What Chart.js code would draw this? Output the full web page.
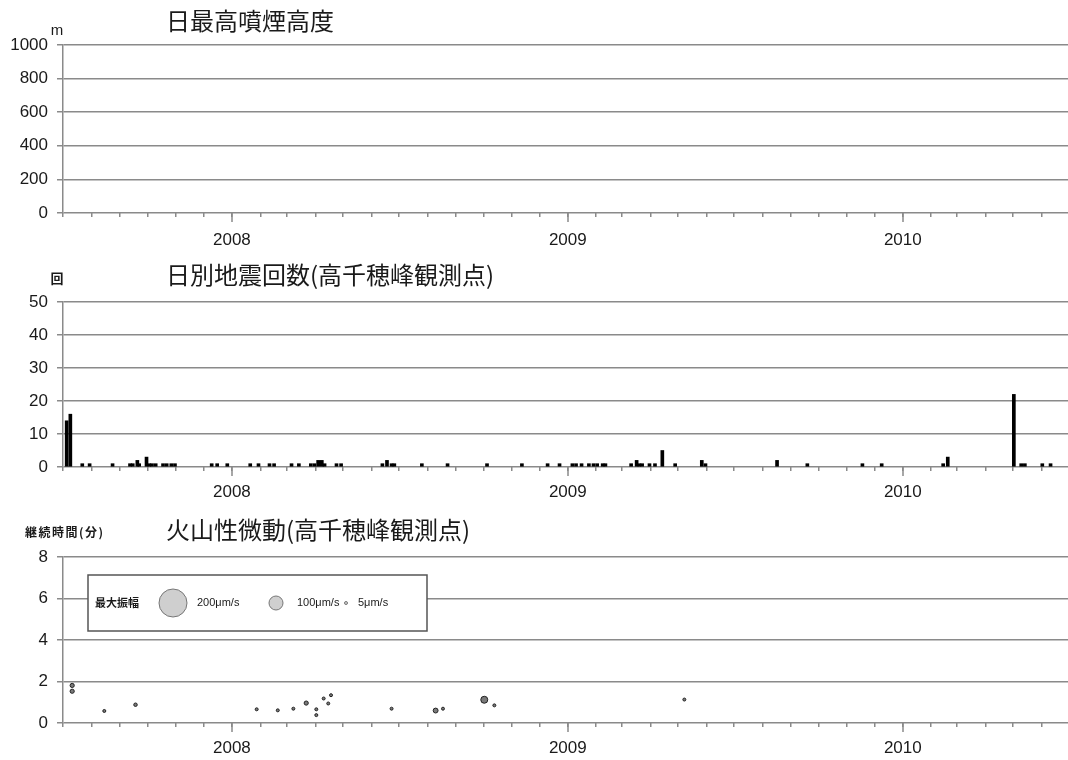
<!DOCTYPE html>
<html>
<head>
<meta charset="utf-8">
<title>新燃岳 観測データ</title>
<script src="https://cdn.jsdelivr.net/npm/chart.js@4.4.1/dist/chart.umd.min.js"></script>
<style>
  html, body { margin: 0; padding: 0; background: #fff; }
  #wrap { position: relative; width: 1068px; height: 760px; overflow: hidden; background: #fff; }
  .panel { position: absolute; left: 0; width: 1068px; }
  canvas { display: block; }
</style>
</head>
<body>
<div id="wrap">
  <div class="panel" style="top:0px;height:250px"><canvas id="plume" width="1068" height="250"></canvas></div>
  <div class="panel" style="top:250px;height:260px"><canvas id="quake" width="1068" height="260"></canvas></div>
  <div class="panel" style="top:510px;height:250px"><canvas id="tremor" width="1068" height="250"></canvas></div>
</div>
<script>
// ---- time range shared by the three panels ----
const AXIS_START = '2007-07-01';
const AXIS_END = '2010-06-30';
const yearLabels = ['2008', '2009', '2010'];

// ---- daily maximum plume height (m): no plume observed in this period ----
const plumeDates = [];
const plumeHeights = [];
const plumeTicks = [0, 200, 400, 600, 800, 1000];

// ---- daily earthquake counts ----
const quakeDates = [
  '2007-07-05', '2007-07-09', '2007-07-22', '2007-07-30', '2007-08-24',
  '2007-09-12', '2007-09-15', '2007-09-20', '2007-09-22', '2007-09-30',
  '2007-10-03', '2007-10-06', '2007-10-10', '2007-10-18', '2007-10-22',
  '2007-10-27', '2007-10-31', '2007-12-10', '2007-12-16', '2007-12-27',
  '2008-01-21', '2008-01-30', '2008-02-11', '2008-02-16', '2008-03-06',
  '2008-03-14', '2008-03-27', '2008-03-31', '2008-04-04', '2008-04-08',
  '2008-04-11', '2008-04-24', '2008-04-29', '2008-06-13', '2008-06-18',
  '2008-06-23', '2008-06-26', '2008-07-26', '2008-08-23', '2008-10-05',
  '2008-11-12', '2008-12-10', '2008-12-23', '2009-01-06', '2009-01-10',
  '2009-01-16', '2009-01-24', '2009-01-29', '2009-02-02', '2009-02-08',
  '2009-02-11', '2009-03-11', '2009-03-17', '2009-03-20', '2009-03-23',
  '2009-03-31', '2009-04-06', '2009-04-14', '2009-04-28', '2009-05-27',
  '2009-05-31', '2009-08-17', '2009-09-19', '2009-11-18', '2009-12-09',
  '2010-02-14', '2010-02-19', '2010-05-02', '2010-05-10', '2010-05-14',
  '2010-06-02', '2010-06-11'
];
const quakeCounts = [
  14, 16, 1, 1, 1,
  1, 1, 2, 1, 3,
  1, 1, 1, 1, 1,
  1, 1, 1, 1, 1,
  1, 1, 1, 1, 1,
  1, 1, 1, 2, 2,
  1, 1, 1, 1, 2,
  1, 1, 1, 1, 1,
  1, 1, 1, 1, 1,
  1, 1, 1, 1, 1,
  1, 1, 2, 1, 1,
  1, 1, 5, 1, 2,
  1, 2, 1, 1, 1,
  1, 3, 22, 1, 1,
  1, 1
];
const quakeTicks = [0, 10, 20, 30, 40, 50];

// ---- volcanic tremor: duration (min) and maximum amplitude (μm/s) ----
const tremorDates = [
  '2007-07-11', '2007-07-11', '2007-08-15', '2007-09-18', '2008-01-28',
  '2008-02-20', '2008-03-08', '2008-03-22', '2008-04-02', '2008-04-02',
  '2008-04-10', '2008-04-15', '2008-04-18', '2008-06-23', '2008-08-10',
  '2008-08-18', '2008-10-02', '2008-10-13', '2009-05-08'
];
const tremorMinutes = [
  1.81, 1.53, 0.58, 0.88, 0.66,
  0.61, 0.69, 0.96, 0.66, 0.38,
  1.18, 0.94, 1.34, 0.69, 0.60,
  0.69, 1.12, 0.85, 1.13
];
const tremorAmplitudes = [
  30, 30, 10, 25, 8,
  8, 8, 30, 5, 5,
  5, 20, 5, 5, 35,
  5, 50, 20, 8
];
const tremorTicks = [0, 2, 4, 6, 8];
const legendAmplitudes = [200, 100, 5];

// ---- helpers ----
const DAY_MS = 86400000;
function toUTC(s) { const [y, m, d] = s.split('-').map(Number); return Date.UTC(y, m - 1, d); }
const T0 = toUTC(AXIS_START);
function dayOf(s) { return Math.round((toUTC(s) - T0) / DAY_MS); }
const X_MAX = dayOf(AXIS_END);

// first day of each month inside the axis range
const monthStarts = [];
(function () {
  let y = 2007, m = 6;
  for (;;) {
    const v = Math.round((Date.UTC(y, m, 1) - T0) / DAY_MS);
    if (v > X_MAX) break;
    monthStarts.push(v);
    m++; if (m > 11) { m = 0; y++; }
  }
})();
const yearStarts = yearLabels.map(y => dayOf(y + '-01-01'));

function radiusFor(amp) { return Math.max(1.5, amp * 0.07); }

const GRID = '#8a8a8a';
const INK = '#1a1a1a';
const TICK_FONT = { family: '"Liberation Sans", Arial, sans-serif', size: 17 };

function timeAxis(height, labelPad) {
  return {
    type: 'linear',
    offset: false,
    min: 0,
    max: X_MAX,
    afterBuildTicks(scale) { scale.ticks = monthStarts.map(v => ({ value: v })); },
    afterFit(scale) { scale.height = height; },
    ticks: {
      autoSkip: false,
      maxRotation: 0,
      padding: labelPad,
      color: INK,
      font: TICK_FONT,
      callback(v) {
        const i = yearStarts.indexOf(v);
        return i >= 0 ? yearLabels[i] : '';
      }
    },
    grid: { offset: false, drawOnChartArea: false, drawTicks: true, tickLength: 4, color: GRID, lineWidth: 1.5 },
    border: { display: false }
  };
}

function valueAxis(ticks) {
  return {
    type: 'linear',
    min: ticks[0],
    max: ticks[ticks.length - 1],
    afterBuildTicks(scale) { scale.ticks = ticks.map(v => ({ value: v })); },
    afterFit(scale) { scale.width = 63; },
    ticks: { padding: 9, color: INK, font: TICK_FONT, callback: v => String(v) },
    grid: { color: GRID, lineWidth: 1.5, drawTicks: true, tickLength: 6 },
    border: { display: true, color: GRID, width: 1.5 }
  };
}

// draws the panel title, unit label and the longer year ticks on the time axis
function panelDecor(opts) {
  return {
    id: 'panelDecor',
    afterDraw(chart) {
      const ctx = chart.ctx;
      const xs = chart.scales.x;
      const bottom = chart.chartArea.bottom;
      ctx.save();
      ctx.strokeStyle = GRID;
      ctx.lineWidth = 1.5;
      yearStarts.forEach(v => {
        const px = Math.round(xs.getPixelForValue(v));
        ctx.beginPath();
        ctx.moveTo(px, bottom);
        ctx.lineTo(px, bottom + 9);
        ctx.stroke();
      });
      ctx.fillStyle = INK;
      ctx.textBaseline = 'middle';
      ctx.textAlign = 'left';
      ctx.font = '24px "Noto Sans CJK JP", sans-serif';
      ctx.fillText(opts.title, opts.titleX, opts.titleY);
      ctx.font = opts.unitFont;
      ctx.textAlign = opts.unitAlign;
      if (opts.unitSpacing) ctx.letterSpacing = opts.unitSpacing;
      ctx.fillText(opts.unit, opts.unitX, opts.unitY);
      ctx.letterSpacing = '0px';
      if (opts.extra) opts.extra(chart, ctx);
      ctx.restore();
    }
  };
}

// amplitude key of the tremor panel
function drawAmplitudeKey(chart, ctx) {
  const left = 88, top = 65, w = 339, h = 56, cy = top + h / 2;
  ctx.fillStyle = '#fff';
  ctx.fillRect(left, top, w, h);
  ctx.strokeStyle = '#555';
  ctx.lineWidth = 1.5;
  ctx.strokeRect(left, top, w, h);
  ctx.fillStyle = INK;
  ctx.textAlign = 'left';
  ctx.textBaseline = 'middle';
  ctx.font = 'bold 11px "Noto Sans CJK JP", sans-serif';
  ctx.fillText('最大振幅', 95, cy);
  const keys = [
    { cx: 173, tx: 197 },
    { cx: 276, tx: 297 },
    { cx: 346, tx: 358 }
  ];
  legendAmplitudes.forEach((amp, i) => {
    ctx.beginPath();
    ctx.arc(keys[i].cx, cy, radiusFor(amp), 0, Math.PI * 2);
    ctx.fillStyle = '#cfcfcf';
    ctx.fill();
    ctx.strokeStyle = '#777';
    ctx.lineWidth = 1;
    ctx.stroke();
    ctx.fillStyle = INK;
    ctx.font = '11px "Liberation Sans", Arial, sans-serif';
    ctx.fillText(amp + 'μm/s', keys[i].tx, cy);
  });
}

const common = {
  responsive: false,
  animation: false,
  events: [],
  plugins: { legend: { display: false }, tooltip: { enabled: false }, title: { display: false } }
};

// 1) daily maximum plume height
new Chart(document.getElementById('plume'), {
  type: 'bar',
  data: {
    datasets: [{
      data: plumeDates.map((d, i) => ({ x: dayOf(d), y: plumeHeights[i] })),
      backgroundColor: '#000',
      barThickness: 3
    }]
  },
  options: Object.assign({}, common, {
    layout: { autoPadding: false, padding: { top: 45, right: 0, bottom: 0, left: 0 } },
    scales: { x: timeAxis(37, 13), y: valueAxis(plumeTicks) }
  }),
  plugins: [panelDecor({
    title: '日最高噴煙高度', titleX: 166, titleY: 21,
    unit: 'm', unitFont: '15px "Liberation Sans", Arial, sans-serif', unitAlign: 'center', unitX: 57, unitY: 31
  })]
});

// 2) daily earthquake counts
new Chart(document.getElementById('quake'), {
  type: 'bar',
  data: {
    datasets: [{
      data: quakeDates.map((d, i) => ({ x: dayOf(d), y: quakeCounts[i] })),
      backgroundColor: '#000',
      borderWidth: 0,
      barThickness: 3
    }]
  },
  options: Object.assign({}, common, {
    layout: { autoPadding: false, padding: { top: 52, right: 0, bottom: 0, left: 0 } },
    scales: { x: timeAxis(43, 11), y: valueAxis(quakeTicks) }
  }),
  plugins: [panelDecor({
    title: '日別地震回数(高千穂峰観測点)', titleX: 166, titleY: 25,
    unit: '回', unitFont: 'bold 13px "Noto Sans CJK JP", sans-serif', unitAlign: 'center', unitX: 57, unitY: 28
  })]
});

// 3) volcanic tremor duration, bubble size = maximum amplitude
new Chart(document.getElementById('tremor'), {
  type: 'bubble',
  data: {
    datasets: [{
      data: tremorDates.map((d, i) => ({ x: dayOf(d), y: tremorMinutes[i], r: radiusFor(tremorAmplitudes[i]) })),
      backgroundColor: '#7a7a7a',
      borderColor: '#222',
      borderWidth: 1,
      clip: false
    }]
  },
  options: Object.assign({}, common, {
    layout: { autoPadding: false, padding: { top: 47, right: 0, bottom: 0, left: 0 } },
    scales: { x: timeAxis(37, 11), y: valueAxis(tremorTicks) }
  }),
  plugins: [panelDecor({
    title: '火山性微動(高千穂峰観測点)', titleX: 166, titleY: 20,
    unit: '継続時間(分)', unitFont: 'bold 12px "Noto Sans CJK JP", sans-serif', unitAlign: 'left', unitX: 25, unitY: 22,
    unitSpacing: '1.5px',
    extra: drawAmplitudeKey
  })]
});
</script>
</body>
</html>
